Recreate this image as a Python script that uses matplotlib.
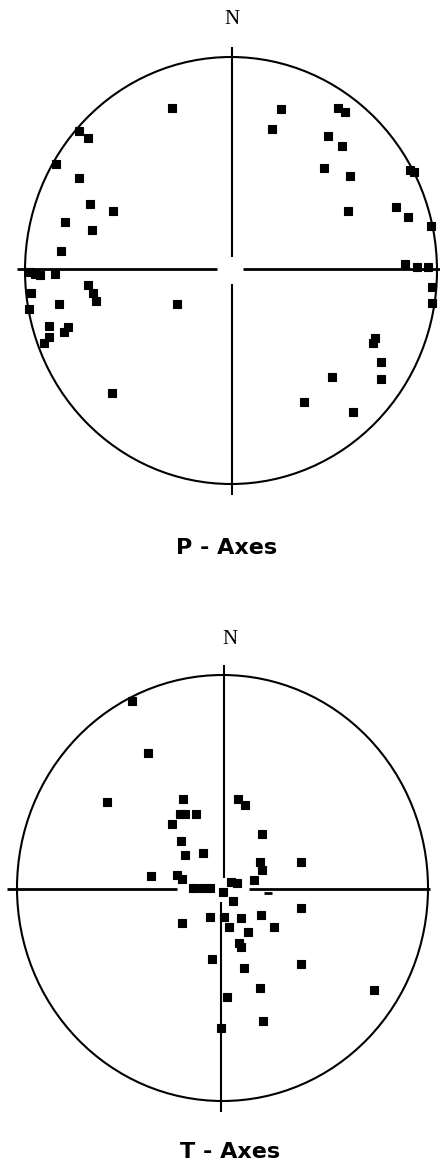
import matplotlib
matplotlib.use("Agg")
import matplotlib.pyplot as plt
from matplotlib.patches import Ellipse

# ---- data: projected axis positions (unit-circle coordinates, x = East, y = North)
p_axes_x = [-0.288, -0.738, -0.696, -0.850, -0.736, -0.684, -0.571, -0.806, -0.676, -0.825,
            -0.976, -0.951, -0.927, -0.854,
            -0.696, -0.671, -0.655, -0.971, -0.979, -0.834, -0.261, -0.882, -0.882, -0.906,
            -0.790, -0.809, -0.576,
            0.243, 0.518, 0.553, 0.198, 0.472, 0.540, 0.869, 0.888, 0.451, 0.578, 0.569,
            0.801, 0.858, 0.971, 0.845, 0.903, 0.956,
            0.974, 0.974, 0.699, 0.691, 0.728, 0.728, 0.489, 0.354, 0.594]
p_axes_y = [0.760, 0.653, 0.622, 0.497, 0.435, 0.311, 0.280, 0.229, 0.190, 0.091,
            -0.007, -0.016, -0.021, -0.016,
            -0.068, -0.104, -0.143, -0.104, -0.182, -0.157, -0.158, -0.260, -0.313, -0.338,
            -0.263, -0.287, -0.575,
            0.755, 0.760, 0.741, 0.663, 0.631, 0.585, 0.471, 0.461, 0.479, 0.443, 0.280,
            0.299, 0.252, 0.210, 0.030, 0.016, 0.016,
            -0.076, -0.154, -0.318, -0.338, -0.427, -0.510, -0.497, -0.615, -0.664]

t_axes_x = [-0.442, -0.364, -0.564, -0.194, -0.207, -0.182, -0.129, -0.244, -0.202, -0.182,
            -0.096, -0.348, -0.223, -0.199, -0.142, -0.101, -0.061, 0.004, 0.041, 0.069,
            0.077, 0.109, 0.194, 0.182, 0.191, 0.155, 0.382, 0.053, 0.382, -0.196,
            -0.061, 0.009, 0.033, 0.090, 0.187, 0.252, 0.123, 0.080, 0.089, -0.053,
            0.106, 0.382, 0.182, 0.739, 0.020, 0.199, -0.007]
t_axes_y = [0.878, 0.632, 0.402, 0.416, 0.347, 0.347, 0.347, 0.300, 0.222, 0.155,
            0.163, 0.056, 0.061, 0.041, -0.001, -0.001, -0.001, -0.017, 0.030, 0.022,
            0.416, 0.390, 0.252, 0.123, 0.085, 0.038, 0.123, -0.060, -0.095, -0.166,
            -0.136, -0.136, -0.182, -0.142, -0.127, -0.182, -0.208, -0.260, -0.275, -0.335,
            -0.377, -0.358, -0.471, -0.479, -0.513, -0.624, -0.659]
t_dash_x = [0.222]
t_dash_y = [-0.025]

titles = ["P - Axes", "T - Axes"]
north_label = "N"

# ---- layout (pixels)
W, H = 440, 1165
fig = plt.figure(figsize=(W / 100, H / 100), dpi=100)
fig.patch.set_facecolor("white")


def make_axes(top, bottom, cx, cy, rx, ry):
    ax = fig.add_axes([0, 1 - bottom / H, 1, (bottom - top) / H])
    ax.set_xlim((0 - cx) / rx, (W - cx) / rx)
    ax.set_ylim((cy - bottom) / ry, (cy - top) / ry)
    ax.axis("off")
    return ax


def net(ax, hsegs, vsegs):
    ax.add_patch(Ellipse((0, 0), 2, 2, fill=False, lw=1.5, ec="black", zorder=2))
    for (x0, x1, y) in hsegs:
        ax.plot([x0, x1], [y, y], color="black", lw=2.0, solid_capstyle="butt", zorder=2)
    for (y0, y1, x) in vsegs:
        ax.plot([x, x], [y0, y1], color="black", lw=1.5, solid_capstyle="butt", zorder=2)


marker_kw = dict(ls="none", marker="s", ms=6.0, mfc="black", mec="black", mew=0.8,
                 zorder=3)

# top net: P-axes
ax1 = make_axes(0, 582, 231, 270.5, 206, 213.5)
net(ax1, [(-1.04, -0.068, 0.005), (0.058, 1.07, 0.005)],
    [(1.047, 0.063, 0.005), (-0.063, -1.052, 0.005)])
ax1.plot(p_axes_x, p_axes_y, **marker_kw)

# bottom net: T-axes
ax2 = make_axes(582, H, 222.5, 888, 205.5, 213)
net(ax2, [(-1.049, -0.221, -0.005), (0.129, 1.01, -0.005)],
    [(1.047, 0.047, 0.009), (-0.064, -1.052, -0.005)])
ax2.plot(t_axes_x, t_axes_y, **marker_kw)
ax2.plot(t_dash_x, t_dash_y, ls="none", marker="_", ms=6, mew=2, color="black", zorder=3)

# texts
serif = ["Liberation Serif", "DejaVu Serif"]
fig.text(232 / W, 1 - 20 / H, north_label, ha="center", va="center", fontsize=15,
         family=serif)
fig.text(230 / W, 1 - 640 / H, north_label, ha="center", va="center", fontsize=15,
         family=serif)
fig.text(227 / W, 1 - 548 / H, titles[0], ha="center", va="center", fontsize=16,
         fontweight="bold", family="DejaVu Sans")
fig.text(230 / W, 1 - 1152 / H, titles[1], ha="center", va="center", fontsize=16,
         fontweight="bold", family="DejaVu Sans")

fig.savefig("out.png", dpi=100, facecolor="white")
